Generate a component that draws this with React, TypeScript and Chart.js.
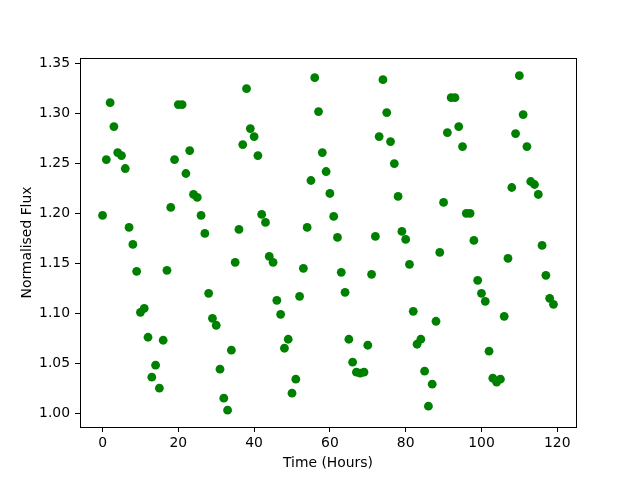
import React, { useEffect, useRef } from "react";
import { Chart, registerables } from "chart.js";

Chart.register(...registerables);

const hours: number[] = Array.from({ length: 120 }, (_, i) => i);
const flux: number[] = [
  1.198, 1.254, 1.311, 1.287, 1.261, 1.258, 1.245, 1.186, 1.169, 1.142,
  1.101, 1.105, 1.076, 1.036, 1.048, 1.025, 1.073, 1.143, 1.206, 1.254,
  1.309, 1.309, 1.240, 1.263, 1.219, 1.216, 1.198, 1.180, 1.120, 1.095,
  1.088, 1.044, 1.015, 1.003, 1.063, 1.151, 1.184, 1.269, 1.325, 1.285,
  1.277, 1.258, 1.199, 1.191, 1.157, 1.151, 1.113, 1.099, 1.065, 1.074,
  1.020, 1.034, 1.117, 1.145, 1.186, 1.233, 1.336, 1.302, 1.261, 1.242,
  1.220, 1.197, 1.176, 1.141, 1.121, 1.074, 1.051, 1.041, 1.040, 1.041,
  1.068, 1.139, 1.177, 1.277, 1.334, 1.301, 1.272, 1.250, 1.217, 1.182,
  1.174, 1.149, 1.102, 1.069, 1.074, 1.042, 1.007, 1.029, 1.092, 1.161,
  1.211, 1.281, 1.316, 1.316, 1.287, 1.267, 1.200, 1.200, 1.173, 1.133,
  1.120, 1.112, 1.062, 1.035, 1.031, 1.034, 1.097, 1.155, 1.226, 1.280,
  1.338, 1.299, 1.267, 1.232, 1.229, 1.219, 1.168, 1.138, 1.115, 1.109,
];
const xTicks: number[] = [0, 20, 40, 60, 80, 100, 120];
const yTicks: number[] = [1.0, 1.05, 1.1, 1.15, 1.2, 1.25, 1.3, 1.35];

const FONT = { family: "'DejaVu Sans', sans-serif", size: 13.9 };

const framePlugin = {
  id: "frame",
  afterDraw(chart: any) {
    const { ctx, chartArea: a } = chart;
    ctx.save();
    ctx.strokeStyle = "#000";
    ctx.lineWidth = 1;
    ctx.strokeRect(Math.round(a.left) + 0.5, Math.round(a.top) + 0.5, Math.round(a.right - a.left), Math.round(a.bottom - a.top));
    ctx.restore();
  },
};

export default function App() {
  const ref = useRef<HTMLCanvasElement | null>(null);
  useEffect(() => {
    document.body.style.margin = "0";
    const canvas = ref.current!;
    const chart = new Chart(canvas, {
      type: "scatter",
      data: {
        datasets: [
          {
            data: hours.map((h, i) => ({ x: h, y: flux[i] })),
            backgroundColor: "#008000",
            borderColor: "#008000",
            borderWidth: 0,
            pointRadius: 4.4,
          },
        ],
      },
      options: {
        animation: false,
        responsive: false,
        maintainAspectRatio: false,
        layout: { padding: { left: 0, top: 58, right: 64, bottom: 0 } },
        plugins: { legend: { display: false }, tooltip: { enabled: false } },
        scales: {
          x: {
            type: "linear",
            min: -5.95,
            max: 124.95,
            afterBuildTicks: (s: any) => {
              s.ticks = xTicks.map((v) => ({ value: v }));
            },
            afterFit: (s: any) => {
              s.height = 53;
            },
            grid: { drawOnChartArea: false, drawTicks: true, tickLength: 5, color: "#000" },
            border: { display: true, color: "#000" },
            ticks: { color: "#000", font: FONT, padding: 3, maxRotation: 0, callback: (v: any) => String(v) },
            title: { display: true, text: "Time (Hours)", color: "#000", font: FONT, padding: { top: 0, bottom: 8.7 } },
          },
          y: {
            type: "linear",
            min: 0.9861,
            max: 1.3557,
            afterBuildTicks: (s: any) => {
              s.ticks = yTicks.map((v) => ({ value: v }));
            },
            afterFit: (s: any) => {
              s.width = 80;
            },
            grid: { drawOnChartArea: false, drawTicks: true, tickLength: 5, color: "#000" },
            border: { display: true, color: "#000" },
            ticks: { color: "#000", font: FONT, padding: 5, callback: (v: any) => Number(v).toFixed(2) },
            title: { display: true, text: "Normalised Flux", color: "#000", font: FONT, padding: { top: 18.7, bottom: 0 } },
          },
        },
      },
      plugins: [framePlugin],
    });
    return () => chart.destroy();
  }, []);
  return (
    <div style={{ width: 640, height: 480, background: "#fff" }}>
      <canvas ref={ref} width={640} height={480} style={{ display: "block" }} />
    </div>
  );
}
